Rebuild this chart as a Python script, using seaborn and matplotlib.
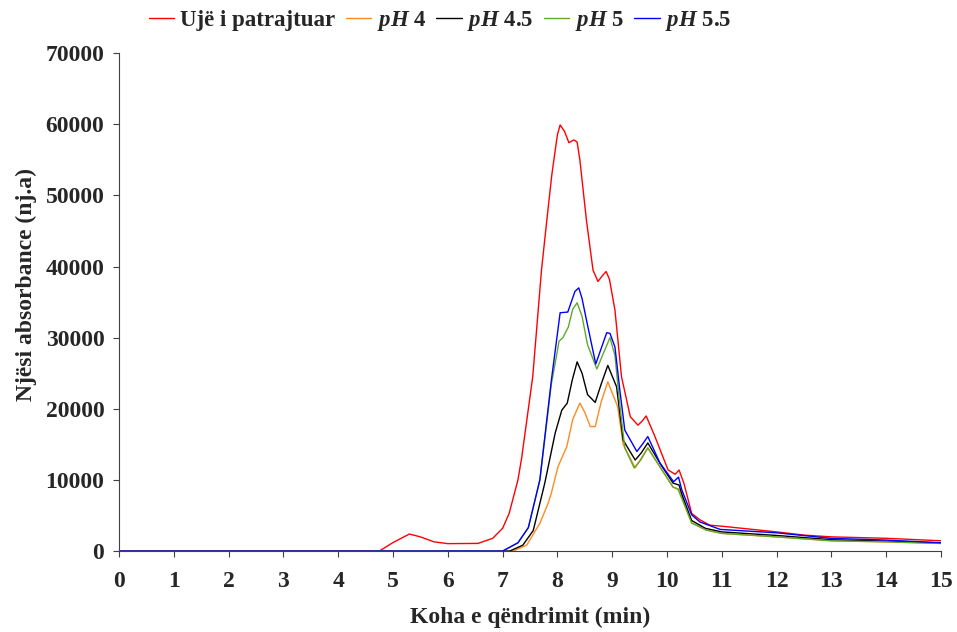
import matplotlib
matplotlib.use("Agg")
import matplotlib.pyplot as plt
import seaborn as sns
import pandas as pd

labels = ["Ujë i patrajtuar", r"$pH$ 4", r"$pH$ 4.5", r"$pH$ 5", r"$pH$ 5.5"]

red_x = [0, 4.75, 5.0, 5.3, 5.5, 5.75, 6.0, 6.55, 6.82, 7.0, 7.12, 7.28, 7.35, 7.55, 7.71, 7.8, 7.9, 8.0,
         8.05, 8.13, 8.21, 8.3, 8.36, 8.41, 8.53, 8.65, 8.74, 8.82, 8.89, 8.95, 9.05, 9.17, 9.33, 9.47,
         9.55, 9.62, 9.78, 10.02, 10.15, 10.22, 10.31, 10.45, 10.6, 10.78, 11.0, 11.5, 12.0, 12.5, 13.0,
         14.0, 15.0]
red_y = [0, 0, 1200, 2400, 2000, 1300, 1050, 1080, 1800, 3200, 5300, 10000, 13200, 24500, 39500, 46000,
         53000, 58500, 59900, 59000, 57400, 57800, 57500, 55000, 46500, 39500, 37900, 38700, 39300, 38200,
         33900, 24500, 18900, 17700, 18300, 19000, 16100, 11400, 10800, 11400, 9500, 5300, 4400, 3650,
         3500, 3100, 2700, 2250, 2000, 1800, 1450]

orange_x = [0, 7.19, 7.44, 7.68, 7.83, 7.89, 8.01, 8.17, 8.28, 8.41, 8.5, 8.6, 8.69, 8.8, 8.92, 9.1, 9.2,
            9.42, 9.65, 9.9, 10.11, 10.22, 10.45, 10.72, 11.0, 12.0, 13.0, 14.0, 15.0]
orange_y = [0, 0, 840, 3900, 6700, 8150, 11850, 14650, 18500, 20800, 19500, 17500, 17500, 21000, 23800,
            20300, 15000, 11700, 14500, 11500, 9000, 8700, 3950, 2950, 2490, 2000, 1450, 1300, 1080]

black_x = [0, 7.13, 7.37, 7.56, 7.77, 7.96, 8.08, 8.18, 8.27, 8.36, 8.45, 8.55, 8.69, 8.8, 8.92, 9.08,
           9.2, 9.42, 9.53, 9.65, 9.9, 10.11, 10.22, 10.28, 10.45, 10.7, 11.0, 12.0, 13.0, 14.0, 15.0]
black_y = [0, 0, 840, 2900, 9560, 16600, 19800, 20800, 24000, 26600, 25000, 22000, 20900, 23500, 26100,
           23100, 15600, 12800, 13800, 15200, 12000, 9560, 9280, 7800, 4300, 3200, 2700, 2200, 1600, 1400,
           1150]

green_x = [0, 7.0, 7.28, 7.47, 7.68, 7.89, 7.95, 8.03, 8.1, 8.2, 8.28, 8.36, 8.45, 8.55, 8.72, 8.85, 8.96,
           9.05, 9.14, 9.23, 9.40, 9.52, 9.65, 9.9, 10.11, 10.2, 10.28, 10.45, 10.72, 11.0, 12.0, 13.0,
           14.0, 15.0]
green_y = [0, 0, 1170, 3300, 10000, 23500, 26000, 29500, 30000, 31500, 34000, 34900, 33000, 29000, 25600,
           28000, 30000, 27500, 20500, 14500, 11700, 12800, 14500, 11500, 9000, 8700, 7200, 3950, 2950,
           2490, 2000, 1450, 1300, 1080]

blue_x = [0, 7.0, 7.28, 7.47, 7.68, 7.89, 8.05, 8.19, 8.32, 8.39, 8.45, 8.53, 8.70, 8.8, 8.9, 8.96, 9.05,
          9.14, 9.23, 9.45, 9.55, 9.65, 9.87, 10.12, 10.21, 10.27, 10.45, 10.6, 10.97, 12.0, 13.0, 14.0,
          15.0]
blue_y = [0, 0, 1170, 3300, 10000, 24000, 33500, 33600, 36500, 37000, 35500, 32500, 26300, 28500, 30700,
          30600, 28700, 22600, 17000, 14000, 15000, 16100, 12400, 9750, 10400, 8600, 5100, 4100, 3050,
          2570, 1790, 1550, 1170]

x_ticks = list(range(0, 16))
y_ticks = [0, 10000, 20000, 30000, 40000, 50000, 60000, 70000]
colors = ["#FF0000", "#FF8A1F", "#000000", "#5FAA2B", "#0000FF"]

series = [(red_x, red_y), (orange_x, orange_y), (black_x, black_y), (green_x, green_y), (blue_x, blue_y)]
frames = []
for lab, (xs, ys) in zip(labels, series):
    frames.append(pd.DataFrame({"x": xs, "y": ys, "s": lab}))
df = pd.concat(frames, ignore_index=True)

sns.set_theme(style="ticks")
plt.rcParams["font.family"] = ["Liberation Serif", "DejaVu Serif"]
plt.rcParams["font.weight"] = "bold"
plt.rcParams["mathtext.fontset"] = "custom"
plt.rcParams["mathtext.it"] = "Liberation Serif:italic:bold"
plt.rcParams["mathtext.rm"] = "Liberation Serif:bold"

fig = plt.figure(figsize=(9.57, 6.32), dpi=100)
ax = fig.add_axes([0.1243, 0.128, 0.859, 0.788])

sns.lineplot(data=df, x="x", y="y", hue="s", hue_order=labels, palette=colors,
             sort=False, estimator=None, linewidth=1.0, ax=ax)

ax.set_xlim(0, 15)
ax.set_ylim(0, 70000)
ax.set_xticks(x_ticks)
ax.set_yticks(y_ticks)
ax.set_xticklabels([str(t) for t in x_ticks], fontsize=17, fontweight="bold")
ax.set_yticklabels([str(t) for t in y_ticks], fontsize=17, fontweight="bold")
ax.tick_params(axis="both", direction="out", length=4.5, width=0.8, color="#404040")
ax.tick_params(axis="x", pad=10)
ax.tick_params(axis="y", pad=6)
ax.set_xlabel("Koha e qëndrimit (min)", fontsize=17, fontweight="bold")
ax.set_ylabel("Njësi absorbance (nj.a)", fontsize=17, fontweight="bold")
ax.xaxis.set_label_coords(0.5, -0.112)
ax.yaxis.set_label_coords(-0.1, 0.535)
for sp in ["top", "right"]:
    ax.spines[sp].set_visible(False)
for sp in ["left", "bottom"]:
    ax.spines[sp].set_color("#404040")
    ax.spines[sp].set_linewidth(0.8)

sns.move_legend(ax, "upper center", bbox_to_anchor=(0.391, 1.13), ncol=5, frameon=False, title=None,
                fontsize=16.5, handlelength=1.1, handletextpad=0.25, columnspacing=0.45)
for t in ax.get_legend().get_texts():
    t.set_fontweight("bold")

fig.savefig("out.png", dpi=100)
